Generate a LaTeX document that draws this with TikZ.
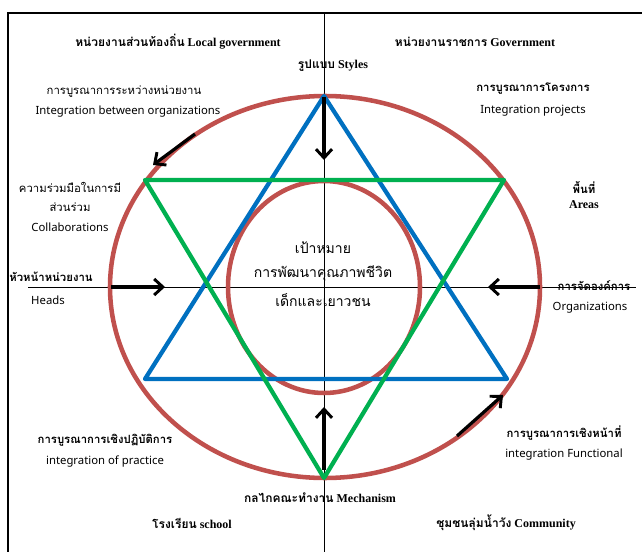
\documentclass[tikz,border=0pt]{standalone}
\usepackage{fontspec}
\setmainfont{Liberation Serif}
\newfontfamily\thaifont[Script=Thai]{Loma}
\newfontfamily\uifont{Noto Sans}
\usetikzlibrary{arrows.meta}
\definecolor{ringred}{RGB}{192,80,77}
\definecolor{starblue}{RGB}{0,112,192}
\definecolor{stargreen}{RGB}{0,176,80}
\newcommand{\thb}[1]{{\thaifont\bfseries #1}}
\newcommand{\thr}[1]{{\thaifont #1}}
\newcommand{\enr}[1]{{\uifont #1}}

\begin{document}
\begin{tikzpicture}[x=0.75pt, y=-0.75pt, font=\fontsize{8.5}{10}\selectfont,
    ring/.style={draw=ringred, line width=3.4pt},
    tri/.style={line width=3.2pt, line join=round},
    push/.style={-{Straight Barb[length=6.5pt, width=12pt, line width=2.2pt]}, line width=2.4pt},
    bold/.style={font=\fontsize{9}{10}\selectfont\bfseries},
    big/.style={font=\fontsize{10.5}{12}\selectfont}]
  \useasboundingbox (0,0) rectangle (642,552);
  % frame and axes
  \draw[line width=1.8pt] (8,552) -- (8,13) -- (642,13);
  \draw[line width=0.6pt] (324,13) -- (324,552);
  \draw[line width=0.6pt] (28,287) -- (636,287);

  % rings and star
  \draw[ring] (325,287) ellipse [x radius=215, y radius=191];
  \draw[ring] (324,287) ellipse [x radius=96, y radius=106];
  \draw[tri, draw=starblue] (324,96) -- (145,379) -- (507,379) -- cycle;
  \draw[tri, draw=stargreen] (145,180) -- (504,180) -- (324,478) -- cycle;

  % arrow ends
  \coordinate (apexT) at (324,97);
  \coordinate (apexTin) at (324,160);
  \coordinate (ringL) at (111,287);
  \coordinate (ringLin) at (165,287);
  \coordinate (ringR) at (540,287);
  \coordinate (ringRin) at (488,287);
  \coordinate (apexB) at (324,470);
  \coordinate (apexBin) at (324,407);
  \coordinate (arcUL) at (195,134);
  \coordinate (arcULend) at (153,165);
  \coordinate (arcLR) at (457,436);
  \coordinate (arcLRend) at (503,395);
  \draw[push] (apexT) -- (apexTin);
  \draw[push] (ringL) -- (ringLin);
  \draw[push] (ringR) -- (ringRin);
  \draw[push] (apexB) -- (apexBin);
  \draw[push] (arcUL) -- (arcULend);
  \draw[push] (arcLR) -- (arcLRend);

  % labels
  \node[bold] (local) at (178,42) {\thb{หน่วยงานส่วนท้องถิ่น} Local government};
  \node[bold] (govt) at (475,42) {\thb{หน่วยงานราชการ} Government};
  \node[bold] (styles) at (333,66) {\thb{รูปแบบ} Styles};
  \node (intorg) at (124,92) {\thr{การบูรณาการระหว่างหน่วยงาน}};
  \node (intorgE) at (128,112) {\enr{Integration between organizations}};
  \node (intproj) at (533,89) {\thb{การบูรณาการโครงการ}};
  \node (intprojE) at (533,111) {\enr{Integration projects}};
  \node (collab) at (70,187) {\thr{ความร่วมมือในการมี}};
  \node (collab2) at (70,207) {\thr{ส่วนร่วม}};
  \node (collabE) at (70,227) {\enr{Collaborations}};
  \node (heads) at (51,277) {\thb{หัวหน้าหน่วยงาน}};
  \node (headsE) at (48,300) {\enr{Heads}};
  \node (areas) at (584,188) {\thb{พื้นที่}};
  \node[bold] (areasE) at (584,205) {Areas};
  \node (organ) at (594,286) {\thb{การจัดองค์การ}};
  \node (organE) at (590,308) {\enr{Organizations}};
  \node[big] (goal) at (323,248) {\thr{เป้าหมาย}};
  \node[big] (goal2) at (323,273) {\thr{การพัฒนาคุณภาพชีวิต}};
  \node[big] (goal3) at (323,300) {\thr{เด็กและเยาวชน}};
  \node (intprac) at (105,440) {\thb{การบูรณาการเชิงปฏิบัติการ}};
  \node (intpracE) at (105,462) {\enr{integration of practice}};
  \node (intfunc) at (564,433) {\thb{การบูรณาการเชิงหน้าที่}};
  \node (intfuncE) at (564,455) {\enr{integration Functional}};
  \node[bold] (mech) at (320,498) {\thb{กลไกคณะทำงาน} Mechanism};
  \node[bold] (school) at (192,523) {\thb{โรงเรียน} school};
  \node[bold] (comm) at (506,523) {\thb{ชุมชนลุ่มน้ำวัง} Community};
\end{tikzpicture}
\end{document}
